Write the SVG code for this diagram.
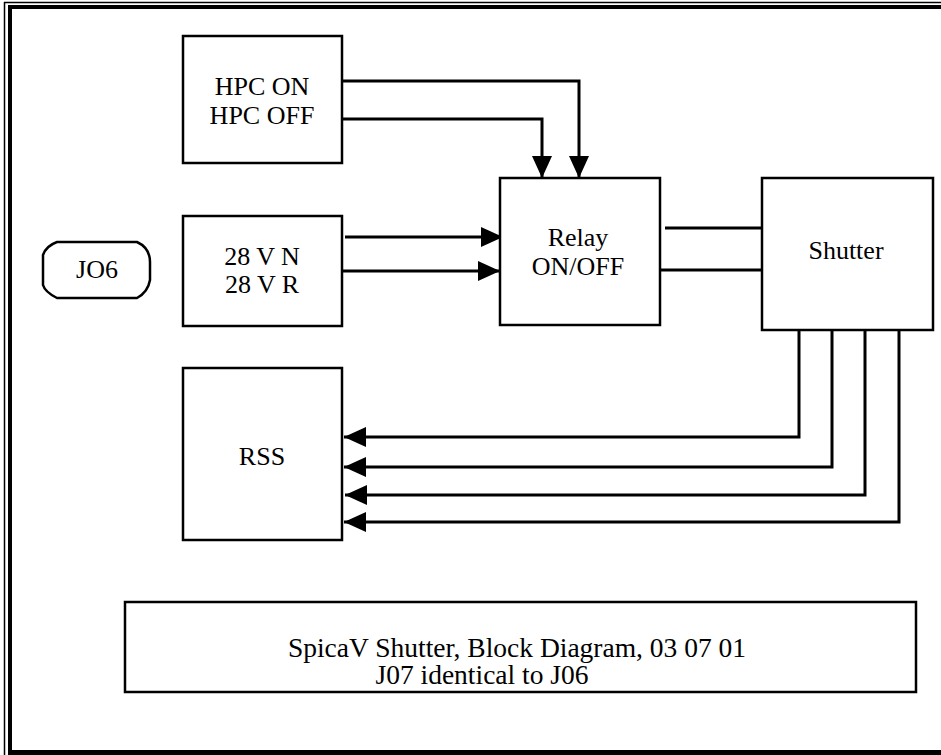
<svg xmlns="http://www.w3.org/2000/svg" width="941" height="755" viewBox="0 0 941 755">
<defs>
<style>
.box{fill:#fff;stroke:#000;stroke-width:2.5}
.ln{fill:none;stroke:#000;stroke-width:3}
.t{font-size:26px;fill:#000;text-anchor:middle}
.f{font-size:27.5px}
</style>
<marker id="ah" viewBox="0 0 22 20" refX="22" refY="10" markerWidth="22" markerHeight="20" markerUnits="userSpaceOnUse" orient="auto">
<path d="M0,0 L22,10 L0,20 Z" fill="#000"/>
</marker>
</defs>
<rect width="941" height="755" fill="#fff"/>
<g id="frame">
<line x1="4.5" y1="2" x2="4.5" y2="755" stroke="#000" stroke-width="1.5"/>
<line x1="4" y1="2.5" x2="941" y2="2.5" stroke="#000" stroke-width="1.5"/>
<line x1="10" y1="5" x2="10" y2="755" stroke="#000" stroke-width="4"/>
<line x1="8" y1="7" x2="941" y2="7" stroke="#000" stroke-width="4"/>
<line x1="8" y1="752.5" x2="941" y2="752.5" stroke="#000" stroke-width="5"/>
</g>
<g id="connectors">
<polyline class="ln" points="342,81 579,81 579,178" marker-end="url(#ah)"/>
<polyline class="ln" points="342,119 542,119 542,178" marker-end="url(#ah)"/>
<line class="ln" x1="345" y1="237" x2="503" y2="237" marker-end="url(#ah)"/>
<line class="ln" x1="342" y1="271" x2="500" y2="271" marker-end="url(#ah)"/>
<line class="ln" x1="665" y1="228" x2="766" y2="228"/>
<line class="ln" x1="660" y1="270" x2="762" y2="270"/>
<polyline class="ln" points="799,330 799,437 344,437" marker-end="url(#ah)"/>
<polyline class="ln" points="832,330 832,467 344,467" marker-end="url(#ah)"/>
<polyline class="ln" points="865,330 865,495 345,495" marker-end="url(#ah)"/>
<polyline class="ln" points="899,330 899,522 344,522" marker-end="url(#ah)"/>
</g>
<g font-family="Liberation Serif, DejaVu Serif, serif">
<g id="hpc">
<rect class="box" x="183" y="36" width="159" height="127"/>
<text class="t" x="262" y="95">HPC ON</text>
<text class="t" x="262" y="124">HPC OFF</text>
</g>
<g id="j06">
<path class="box" d="M57,242 L137,242 Q150,248 150,262 L150,280 Q148,292 137,298 L57,298 Q45,292 43,285 L43,255 Q46,246 57,242 Z"/>
<text class="t" x="97" y="278">JO6</text>
</g>
<g id="v28">
<rect class="box" x="183" y="216" width="159" height="110"/>
<text class="t" x="262" y="265">28 V N</text>
<text class="t" x="262" y="293">28 V R</text>
</g>
<g id="relay">
<rect class="box" x="500" y="178" width="160" height="147"/>
<text class="t" x="578" y="246">Relay</text>
<text class="t" x="578" y="275">ON/OFF</text>
</g>
<g id="shutter">
<rect class="box" x="762" y="178" width="171" height="152"/>
<text class="t" x="846" y="259">Shutter</text>
</g>
<g id="rss">
<rect class="box" x="183" y="368" width="159" height="172"/>
<text class="t" x="262" y="465">RSS</text>
</g>
<g id="footer">
<rect class="box" x="125" y="602" width="791" height="90"/>
<text class="t f" x="517" y="657">SpicaV Shutter, Block Diagram, 03 07 01</text>
<text class="t f" x="482" y="684">J07 identical to J06</text>
</g>
</g>
</svg>
